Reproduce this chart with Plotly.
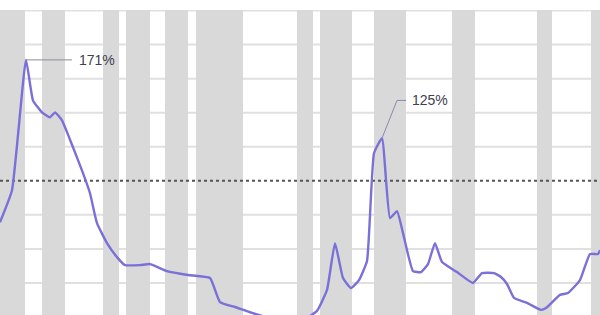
import plotly.graph_objects as go

# Data (x in years, y in percent)
years = [1925.0, 1926.8, 1928.9, 1929.95, 1931.3, 1932.5, 1933.25, 1934.3, 1935.95,
         1937.45, 1938.5, 1939.55, 1941.05, 1942.55, 1943.75, 1946.0, 1947.5, 1950.05,
         1953.2, 1956.5, 1958.0, 1960.25, 1962.8, 1965.5, 1968.5, 1970.75, 1972.55,
         1974.05, 1975.25, 1976.45, 1977.65, 1978.85, 1980.05, 1981.1, 1982.3, 1983.5,
         1984.55, 1985.45, 1986.95, 1988.15, 1989.2, 1990.25, 1991.3, 1993.55, 1995.95,
         1997.3, 1999.1, 2000.15, 2001.05, 2002.1, 2004.05, 2006.15, 2006.9, 2009.0,
         2010.2, 2012.0, 2013.5, 2014.7, 2015.0]
values = [75.7, 94.5, 171.0, 147.2, 140.2, 137.3, 140.2, 135.5, 119.7,
          104.5, 92.7, 75.1, 63.4, 55.2, 50.5, 50.5, 51.1, 47.0,
          44.7, 42.9, 28.8, 25.9, 22.4, 19.5, 17.7, 18.9, 23.6,
          35.9, 63.4, 42.9, 37.0, 41.7, 52.9, 116.2, 125.0, 78.1,
          82.2, 69.3, 47.0, 46.4, 51.1, 63.4, 52.3, 46.4, 40.0,
          45.8, 45.8, 43.5, 39.4, 31.2, 28.3, 24.2, 25.3, 33.0,
          34.1, 41.7, 57.0, 57.0, 59.3]

band_starts = [1925.0, 1931.3, 1940.45, 1943.9, 1949.75, 1954.4, 1969.55, 1973.0,
               1981.1, 1992.8, 2005.55, 2013.65]
band_ends = [1928.75, 1934.75, 1942.85, 1947.5, 1953.2, 1961.45, 1971.95, 1977.8,
             1985.9, 1996.25, 2007.8, 2015.5]

grid_levels = [40, 60, 80, 120, 140, 160, 180, 200]
reference_level = 100
peak1 = (1928.9, 171.0)
peak2 = (1982.3, 125.0)
label1 = "171%"
label2 = "125%"

fig = go.Figure()

# grid first, then bands over it (same layer, drawn in order)
for g in grid_levels:
    fig.add_hline(y=g, line=dict(color="#e0e0e0", width=2), layer="below")
for s, e in zip(band_starts, band_ends):
    fig.add_vrect(x0=s, x1=e, fillcolor="#d9d9d9", opacity=1, line_width=0, layer="below")

fig.add_hline(y=reference_level, line=dict(color="#555555", width=2, dash="dot"), layer="below")

fig.add_trace(go.Scatter(x=years, y=values, mode="lines",
                         line=dict(color="#7a70d8", width=2.4, shape="spline", smoothing=0.4),
                         hoverinfo="skip", showlegend=False))

# leader lines
fig.add_trace(go.Scatter(x=[peak1[0], 1935.8], y=[peak1[1], peak1[1]], mode="lines",
                         line=dict(color="#8a8a9a", width=1), showlegend=False, hoverinfo="skip"))
fig.add_trace(go.Scatter(x=[peak2[0], 1984.55, 1985.9], y=[peak2[1], 147.2, 147.2], mode="lines",
                         line=dict(color="#8a8aa8", width=1), showlegend=False, hoverinfo="skip"))

fig.add_annotation(x=1936.5, y=peak1[1], text=label1, showarrow=False, xanchor="left",
                   yanchor="middle", font=dict(family="Liberation Sans", size=14, color="#404050"))
fig.add_annotation(x=1986.5, y=147.2, text=label2, showarrow=False, xanchor="left",
                   yanchor="middle", font=dict(family="Liberation Sans", size=14, color="#404050"))

fig.update_layout(
    width=600, height=315,
    margin=dict(l=0, r=0, t=10, b=0),
    paper_bgcolor="white", plot_bgcolor="white",
    xaxis=dict(range=[1925, 2015], showgrid=False, zeroline=False, showticklabels=False,
               ticks="", showline=False),
    yaxis=dict(range=[21.2, 200.3], showgrid=False, zeroline=False, showticklabels=False,
               ticks="", showline=False),
)

fig.write_html("out.html")
